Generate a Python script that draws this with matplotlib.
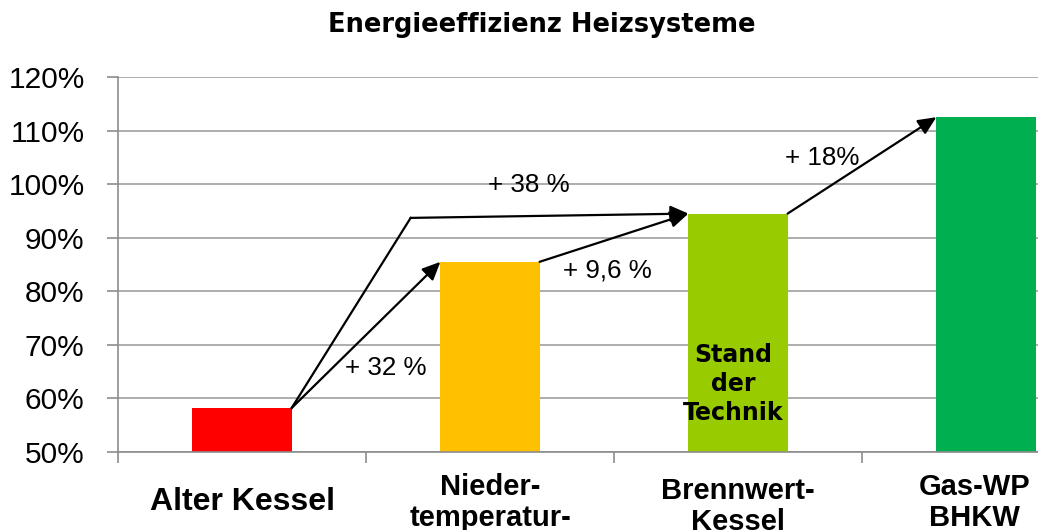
import matplotlib
matplotlib.use("Agg")
import matplotlib.pyplot as plt
import matplotlib.transforms as mtransforms
import numpy as np

plt.rcParams['font.family'] = ['Liberation Sans', 'DejaVu Sans']

# Daten
categories = ["Alter Kessel", "Nieder-\ntemperatur-\nKessel", "Brennwert-\nKessel", "Gas-WP\nBHKW"]
efficiency = [0.582, 0.855, 0.945, 1.125]
bar_colors = ["#FF0000", "#FFC000", "#99CC00", "#00B050"]
y_ticks = [0.5, 0.6, 0.7, 0.8, 0.9, 1.0, 1.1, 1.2]
y_ticklabels = ["50%", "60%", "70%", "80%", "90%", "100%", "110%", "120%"]
gain_labels = ["+ 32 %", "+ 38 %", "+ 9,6 %", "+ 18%"]
bar_note = "Stand\nder\nTechnik"

x = np.arange(len(categories))
width = 0.4

fig = plt.figure(figsize=(10.38, 5.30), dpi=100)
ax = fig.add_axes([118/1038, 1 - 452/530, 992/1038, 375/530])

ax.bar(x, efficiency, width, color=bar_colors, zorder=2)

ax.set_xlim(-0.5, len(categories) - 0.5)
ax.set_ylim(0.5, 1.2)
ax.set_yticks(y_ticks)
ax.set_yticklabels(y_ticklabels, fontsize=21.5)
ax.tick_params(axis='y', length=8, width=1.2, color='#8C8C8C', pad=16)
ax.grid(axis='y', color='#A0A0A0', linewidth=1.2, zorder=0)
ax.set_axisbelow(True)

# Kategorie-Trenner als Ticks
ax.set_xticks(np.arange(-0.5, len(categories), 1.0))
ax.set_xticklabels([])
ax.tick_params(axis='x', length=8, width=1.2, color='#8C8C8C', direction='out')

for side in ['top', 'right']:
    ax.spines[side].set_visible(False)
ax.spines['left'].set_color('#8C8C8C')
ax.spines['left'].set_linewidth(1.2)
ax.spines['bottom'].set_color('#8C8C8C')
ax.spines['bottom'].set_linewidth(1.2)

# Kategorie-Beschriftungen (letzte ist im Original etwas nach links gerückt)
trans = mtransforms.blended_transform_factory(ax.transData, fig.transFigure)
label_tops = [487, 473, 477, 473]
label_dx = [0, 0, 0, -0.045]
label_size = [23, 21, 21, 21]
for i, lab in enumerate(categories):
    ax.text(x[i] + label_dx[i], 1 - label_tops[i]/530, lab, transform=trans, ha='center',
            va='top', fontsize=label_size[i], fontweight='bold', linespacing=1.15,
            clip_on=False)

# Pfeile
arrow_kw = dict(arrowstyle='-|>,head_length=1.1,head_width=0.5', color='black', lw=1.6,
                shrinkA=0, shrinkB=0)

def corner(i, side):
    return (x[i] + side * width / 2, efficiency[i])

ax.annotate('', xy=corner(1, -1), xytext=corner(0, 1), arrowprops=arrow_kw)
bend = (0.68, efficiency[2] - 0.008)
ax.plot([corner(0, 1)[0], bend[0]], [corner(0, 1)[1], bend[1]], color='black', lw=1.6)
ax.annotate('', xy=corner(2, -1), xytext=bend, arrowprops=arrow_kw)
ax.annotate('', xy=corner(2, -1), xytext=corner(1, 1), arrowprops=arrow_kw)
ax.annotate('', xy=corner(3, -1), xytext=corner(2, 1), arrowprops=arrow_kw)

ax.text(0.58, 0.657, gain_labels[0], fontsize=18.7, ha='center', va='center')
ax.text(1.157, 0.998, gain_labels[1], fontsize=18.7, ha='center', va='center')
ax.text(1.472, 0.838, gain_labels[2], fontsize=18.7, ha='center', va='center')
ax.text(2.34, 1.049, gain_labels[3], fontsize=18.7, ha='center', va='center')

ax.text(x[2] - 0.02, 0.627, bar_note, fontsize=17, fontweight='bold', ha='center',
        va='center', linespacing=1.25, family=['DejaVu Sans'])

fig.text(542/1038, 1 - 32/530, "Energieeffizienz Heizsysteme", fontsize=18.5,
         fontweight='bold', ha='center', va='baseline', family=['DejaVu Sans'])

fig.savefig("out.png", dpi=100)
